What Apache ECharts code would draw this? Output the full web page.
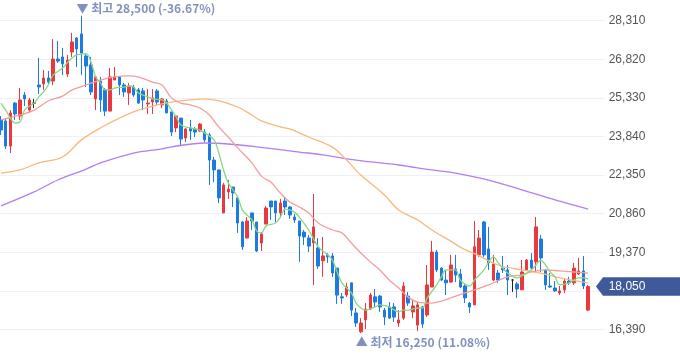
<!DOCTYPE html>
<html><head><meta charset="utf-8">
<script src="https://cdn.jsdelivr.net/npm/echarts@6/dist/echarts.min.js"></script>
<style>html,body{margin:0;padding:0;background:#fff}#c{width:680px;height:358px}</style>
</head><body><div id="c"></div>
<script>
// OHLC values (125 trading days)
const opens = [24480,24440,23470,25130,24630,25440,24860,25130,25830,25870,
26100,25980,26830,26910,26250,27100,27640,27800,26950,26600,
25290,25980,25640,24820,26020,26140,25830,25520,25750,25640,
25600,25100,25170,25600,25060,25210,24790,24170,24550,23780,
24170,24130,24050,24010,23900,22930,22550,20890,21700,21890,
21470,20540,19920,20890,20540,19730,20460,21350,21350,20890,
21350,21120,20730,20580,20150,19920,19730,19540,19040,19270,
19230,18760,17650,17720,18190,17030,16300,16760,17180,17650,
17680,17140,17260,17260,16640,16830,17680,17070,16560,17260,
16950,18030,19380,18760,18300,18220,18730,18530,18070,17410,
17340,19270,20540,19500,18300,18570,18760,18690,18300,18150,
17920,18690,19070,19000,19880,18690,18070,17990,17800,17920,
18260,18190,18530,18650,17140];
const closes = [24090,23470,24750,24710,25250,25290,25250,25130,25750,26100,
25940,26830,26750,26640,26790,27490,27220,27060,26560,25560,
26140,25250,24820,26140,26140,25830,25560,25790,25440,25130,
25250,25130,25330,25170,25290,24750,24010,24630,23740,24130,
24050,24010,24320,23710,22930,22550,21470,21970,21810,21660,
20500,19580,20580,20580,19420,20080,21080,21120,20890,21270,
21120,20810,20620,20000,19960,19610,20350,18840,19230,19190,
18570,17720,17610,18030,17140,16640,16640,17180,17720,17450,
17260,16870,16830,16870,16760,18070,17410,17300,17340,16600,
18110,19380,18690,18300,18190,18880,18490,18030,17610,17260,
19580,19920,19270,18960,18920,18300,18690,18300,18300,17950,
18610,19070,18760,20350,19150,18110,18030,17880,17880,18260,
18190,18760,18650,18070,18050];
const highs = [24630,24550,24860,25170,25710,25560,25330,25290,26870,26410,
26370,27600,27530,27260,26990,27840,27680,28500,27060,26910,
26140,26140,25710,26480,26520,26140,25910,25910,25830,25710,
25710,25670,25670,25670,25330,25290,24790,24670,24550,24170,
24480,24210,24360,24130,23980,23050,22550,22050,22160,21890,
21470,20580,20730,20890,20540,20150,21160,21350,21350,21430,
21470,21160,20850,20580,20230,20040,21620,19920,19960,19340,
19340,18760,17800,18190,18190,17220,16830,17410,17800,17950,
17720,17220,17450,17410,17140,18220,17840,17530,17450,17300,
18880,19810,19460,18800,18690,19270,19270,18730,18150,17450,
20580,20230,20580,20350,19270,18690,19230,18880,18340,18220,
19070,19110,19340,20730,20040,18730,18570,18260,18070,18340,
18420,18960,19150,19230,18110];
const lows = [23900,23360,23200,24480,24480,25020,24750,24940,25480,25640,
25830,25830,26680,26210,26140,26910,26520,26210,25750,25440,
24860,24790,24630,24820,26020,25440,25370,25060,25370,25100,
24860,24710,24710,25060,24940,24750,23860,24010,23470,23630,
23710,23820,24010,23630,21970,22080,21270,20890,21430,21120,
20120,19460,19920,20230,19380,19420,20460,20620,20540,20690,
20810,20660,20500,19000,19650,19380,18110,18730,18420,18960,
18420,17380,17380,17650,16910,16490,16250,16410,17140,17260,
17070,16560,16800,16680,16490,16760,17300,16830,16330,16450,
16870,18030,18610,18260,17720,18190,18220,17990,17410,17030,
17340,19190,19190,18690,18260,18190,18570,17720,17840,17610,
17920,18650,18690,18610,18610,17920,17990,17840,17720,17800,
18110,18110,18490,17950,17100];

// Moving averages: [day index, value]
const ma5 = [[0,25130],[1,24860],[3,24360],[4,24400],[5,24860],[7,25130],[8,25370],[9,25560],[10,25830],[11,26210],
[13,26480],[14,26680],[15,26870],[16,26990],[18,27030],[19,26720],[20,26140],[21,25910],[22,25640],[23,25640],
[24,25710],[26,25750],[27,25790],[28,25750],[29,25520],[31,25370],[32,25290],[34,25250],[35,25130],[37,24590],
[38,24280],[40,24170],[42,24090],[43,23980],[45,23710],[46,23200],[47,22550],[48,22050],[50,21510],[51,21000],
[53,20620],[54,20190],[55,20120],[56,20390],[58,20500],[59,20730],[60,21040],[61,21000],[62,20920],[63,20730],
[65,20230],[67,19580],[69,19270],[70,19070],[71,18610],[72,18190],[74,17800],[75,17410],[76,17220],[77,17140],
[79,17260],[80,17340],[82,17260],[84,17070],[85,17140],[86,17140],[88,17220],[89,17220],[90,17600],[92,18110],
[93,18420],[94,18690],[96,18690],[97,18300],[99,18070],[100,18300],[102,18690],[103,19000],[104,19190],[105,18960],
[106,18760],[107,18570],[109,18380],[110,18460],[111,18570],[112,18690],[113,18880],[114,19070],[115,18880],[116,18610],
[117,18420],[118,18110],[120,18190],[121,18300],[122,18380],[123,18380],[124,18340]];
const ma20 = [[0,24480],[4,24670],[7,24860],[10,25210],[13,25400],[15,25640],[18,25830],[21,26020],[24,26140],[27,26180],
[29,26140],[32,25940],[34,25830],[36,25330],[38,25130],[40,25060],[42,24940],[44,24670],[46,24210],[48,23820],
[50,23400],[53,22820],[55,22310],[57,22080],[59,21660],[61,21310],[63,21120],[65,20890],[67,20500],[70,20230],
[72,20120],[74,19730],[76,19340],[78,19000],[80,18690],[82,18300],[84,17990],[86,17640],[88,17450],[91,17410],
[93,17490],[95,17610],[98,17800],[100,17920],[103,18110],[107,18420],[110,18500],[112,18610],[115,18690],[118,18650],
[121,18610],[124,18570]];
const ma60 = [[0,22430],[4,22550],[8,22820],[13,23050],[17,23710],[21,24170],[25,24550],[29,24860],[34,25100],[36,25170],
[40,25250],[43,25290],[45,25250],[47,25170],[50,24980],[53,24670],[55,24440],[59,24210],[61,24130],[63,23980],
[65,23820],[70,23430],[73,22930],[76,22350],[81,21580],[84,21000],[88,20620],[91,20230],[95,19800],[97,19570],
[101,19230],[105,18880],[110,18690],[114,18570],[118,18380],[124,18190]];
const ma120 = [[0,21160],[7,21700],[12,22160],[18,22580],[21,22820],[28,23200],[34,23360],[36,23440],[43,23590],[48,23550],
[54,23440],[63,23240],[68,23130],[75,22930],[84,22740],[91,22550],[96,22430],[103,22160],[110,21780],[117,21390],
[124,21040]];

// y-axis tick spacing shown on the chart
const yMin = 14900, yMax = 29800, yStep = 1490;
const slots = 128;

const fmt = v => Math.round(v).toLocaleString('en-US');
const UP = '#ea383c', DOWN = '#1c7ae3', FLAT = '#222';
const cats = Array.from({length: slots}, (_, i) => String(i));

const candleData = opens.map((o, i) => {
  const v = [o, closes[i], lows[i], highs[i]];
  if (o === closes[i]) return {value: v, itemStyle: {color: FLAT, color0: FLAT, borderColor: FLAT, borderColor0: FLAT}};
  return v;
});
const lastIdx = closes.length - 1, last = closes[lastIdx];
const hi = Math.max(...highs), lo = Math.min(...lows);
const hiIdx = highs.indexOf(hi), loIdx = lows.indexOf(lo);
const pct = p => ((last / p - 1) * 100).toFixed(2);

const maLine = (data, color) => ({
  type: 'line', data, smooth: 0.35, showSymbol: false, symbol: 'none', silent: true,
  lineStyle: {width: 1.3, color}, z: 3
});

const chart = echarts.init(document.getElementById('c'), null, {renderer: 'canvas'});
chart.setOption({
  animation: false,
  backgroundColor: '#ffffff',
  grid: {left: -1.4, right: 75.3, top: -17.9, bottom: -10.1, containLabel: false, outerBoundsMode: 'none'},
  xAxis: {type: 'category', data: cats, boundaryGap: true,
    axisLine: {show: false}, axisTick: {show: false}, axisLabel: {show: false}, splitLine: {show: false}},
  yAxis: {type: 'value', position: 'right', min: yMin, max: yMax, interval: yStep,
    axisLine: {show: false}, axisTick: {show: false},
    splitLine: {lineStyle: {color: '#eef0f5', width: 1}},
    axisLabel: {color: '#555', fontSize: 12, margin: 4, fontFamily: 'Liberation Sans, Arial, sans-serif',
      showMinLabel: false, showMaxLabel: false,
      formatter: v => (Math.abs(v - last) < 700 ? '' : fmt(v))}},
  series: [
    {type: 'candlestick', data: candleData, barWidth: 3, z: 2,
      itemStyle: {color: UP, color0: DOWN, borderColor: UP, borderColor0: DOWN, borderWidth: 1}},
    maLine(ma120, '#b47df3'),
    maLine(ma60, '#f8b87c'),
    maLine(ma20, '#f59d9d'),
    maLine(ma5, '#86d883'),
    {type: 'scatter', silent: true, symbolSize: 1, itemStyle: {color: 'rgba(0,0,0,0)'}, z: 5,
      data: [
        {value: [hiIdx, hi], label: {show: true, position: 'top', distance: 1, align: 'left', offset: [-5, 0],
          formatter: `▼ 최고 ${fmt(hi)} (${pct(hi)}%)`}},
        {value: [loIdx, lo], label: {show: true, position: 'bottom', distance: 3, align: 'left', offset: [-5, 0],
          formatter: `▲ 최저 ${fmt(lo)} (${pct(lo)}%)`}}
      ],
      label: {color: '#6075aa', fontSize: 12, fontWeight: 'bold', fontFamily: 'Noto Sans CJK KR, sans-serif'}},
    {type: 'custom', silent: true, z: 10, data: [[lastIdx, last]],
      renderItem(params, api) {
        const pt = api.coord([api.value(0), api.value(1)]);
        const cs = params.coordSys;
        const edge = cs.x + cs.width;
        const y = pt[1], h = 9.3, tip = 7, W = api.getWidth();
        return {type: 'group', children: [
          {type: 'polygon', shape: {points: [[edge - 1.7 - tip, y], [edge - 1.7, y - h], [W, y - h], [W, y + h], [edge - 1.7, y + h]]},
            style: {fill: '#3e5a99'}},
          {type: 'text', x: edge + 4, y: y, style: {text: fmt(api.value(1)), fill: '#fff',
            font: '12px Liberation Sans, Arial, sans-serif', verticalAlign: 'middle', align: 'left'}}
        ]};
      }}
  ]
});
</script></body></html>
